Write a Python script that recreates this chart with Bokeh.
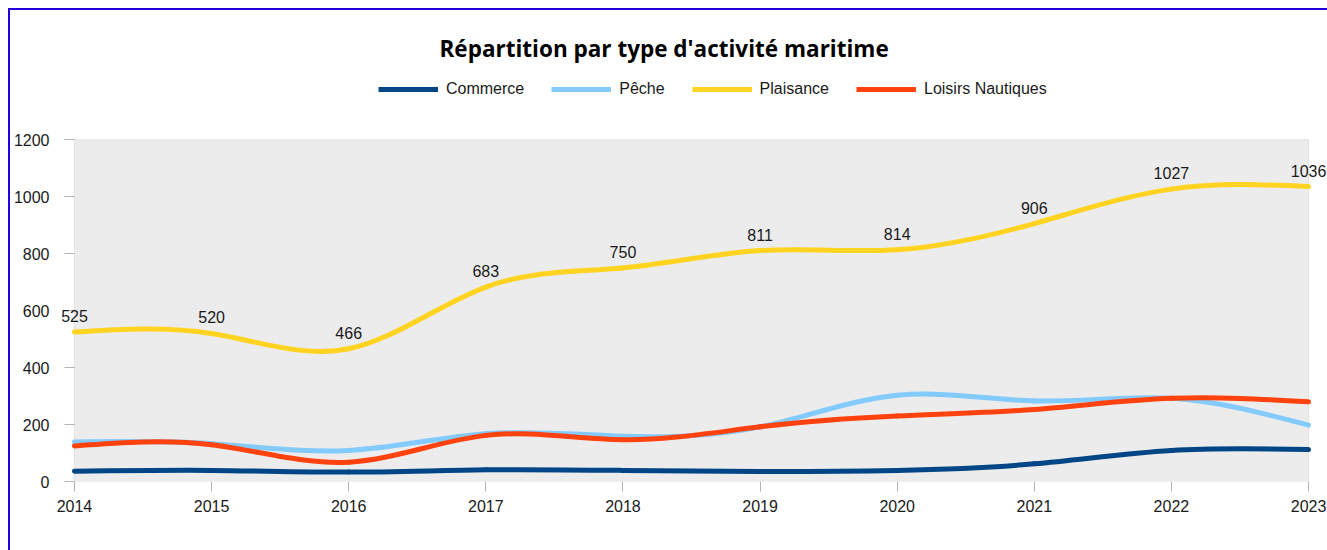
import numpy as np
from bokeh.plotting import figure
from bokeh.core.properties import value
from bokeh.models import (ColumnDataSource, FixedTicker, Legend, LegendItem,
                          LabelSet, BoxAnnotation)
from bokeh.embed import file_html
from bokeh.resources import INLINE

# ---- data -------------------------------------------------------------
years = [2014, 2015, 2016, 2017, 2018, 2019, 2020, 2021, 2022, 2023]
commerce = [36, 39, 33, 41, 39, 35, 39, 62, 109, 112]
peche = [139, 133, 109, 168, 159, 192, 303, 283, 292, 198]
plaisance = [525, 520, 466, 683, 750, 811, 814, 906, 1027, 1036]
loisirs = [125, 129, 68, 162, 147, 192, 230, 253, 292, 280]

series_names = ["Commerce", "Pêche", "Plaisance", "Loisirs Nautiques"]
series_values = [commerce, peche, plaisance, loisirs]
series_colors = ["#004586", "#83caff", "#ffd320", "#ff420e"]

y_ticks = [0, 200, 400, 600, 800, 1000, 1200]
Y_MAX = 1200

FONT = "Liberation Sans"
TEXT_COLOR = "#1a1a1a"
GREY = "#b3b3b3"

# ---- geometry ---------------------------------------------------------
# page positions, converted to canvas pixels (canvas starts at OFF, OFF)
OFF = 12
W, H = 1327 - OFF + 2, 550 - OFF + 2
PLOT_L, PLOT_R = 72 - OFF, 1308 - OFF      # x of first / last year
PLOT_T, PLOT_B = 141 - OFF, 481 - OFF      # y of Y_MAX / 0
FRAME_L, FRAME_T = 56 - OFF, 70 - OFF      # frame runs a little wider
TITLE_LEFT = 437 - OFF
LEGEND_LEFT, LEGEND_TOP = 376 - OFF, 79 - OFF

px_per_year = (PLOT_R - PLOT_L) / (years[-1] - years[0])
px_per_unit = (PLOT_B - PLOT_T) / Y_MAX
x_start = years[0] - (PLOT_L - FRAME_L) / px_per_year
x_end = years[-1] + (W - PLOT_R) / px_per_year
y_end = (PLOT_B - FRAME_T) / px_per_unit
AXIS_SHIFT = PLOT_L - FRAME_L


def spline_segments(xs, ys):
    """Natural cubic spline through the points, returned as Bezier segments."""
    x = np.asarray(xs, dtype=float)
    y = np.asarray(ys, dtype=float)
    n = len(x)
    h = np.diff(x)
    A = np.zeros((n, n))
    r = np.zeros(n)
    A[0, 0] = 1.0
    A[-1, -1] = 1.0
    for i in range(1, n - 1):
        A[i, i - 1] = h[i - 1]
        A[i, i] = 2 * (h[i - 1] + h[i])
        A[i, i + 1] = h[i]
        r[i] = 6 * ((y[i + 1] - y[i]) / h[i] - (y[i] - y[i - 1]) / h[i - 1])
    M = np.linalg.solve(A, r)
    slope = np.diff(y) / h
    d0 = slope - h * (2 * M[:-1] + M[1:]) / 6
    d1 = slope + h * (M[:-1] + 2 * M[1:]) / 6
    return dict(
        x0=x[:-1], y0=y[:-1], x1=x[1:], y1=y[1:],
        cx0=x[:-1] + h / 3, cy0=y[:-1] + h / 3 * d0,
        cx1=x[1:] - h / 3, cy1=y[1:] - h / 3 * d1,
    )


p = figure(
    width=W, height=H,
    x_range=(x_start, x_end), y_range=(0, y_end),
    output_backend="svg", toolbar_location=None,
    min_border_left=FRAME_L, min_border_right=W - PLOT_R - 19,
    min_border_top=FRAME_T, min_border_bottom=H - PLOT_B,
)
p.min_border_right = 0
x_end = years[-1] + (W - PLOT_R) / px_per_year
p.x_range.end = x_end

# page frame: blue rule along the top and left edges
p.styles = {
    "margin-left": "8px", "margin-top": "8px",
    "border-left": "2px solid #2200dd", "border-top": "2px solid #2200dd",
    "box-sizing": "content-box",
}
p.background_fill_color = "white"
p.border_fill_color = "white"
p.outline_line_color = None
p.xgrid.grid_line_color = None
p.ygrid.grid_line_color = None

# grey plotting area, outlined
p.add_layout(BoxAnnotation(left=years[0], right=years[-1], bottom=0, top=Y_MAX,
                           fill_color="#ececec", fill_alpha=1,
                           line_color=GREY, line_width=1, level="underlay"))

for ax in (p.xaxis[0], p.yaxis[0]):
    ax.axis_line_color = None
    ax.major_tick_line_color = GREY
    ax.major_tick_out = 10
    ax.major_tick_in = 0
    ax.minor_tick_line_color = None
    ax.major_label_text_font = FONT
    ax.major_label_text_font_size = "16px"
    ax.major_label_text_color = TEXT_COLOR
    ax.major_label_standoff = 8

# the y axis sits on the frame edge, a few px left of the first year:
# its ticks are shifted so they end on the grey area
yax = p.yaxis[0]
yax.major_tick_out = 10 - AXIS_SHIFT
yax.major_tick_in = AXIS_SHIFT
yax.major_label_standoff = 9

p.xaxis[0].ticker = FixedTicker(ticks=years)
yax.ticker = FixedTicker(ticks=y_ticks)

# title
p.title.text = "Répartition par type d'activité maritime"
p.title.text_font = "Open Sans"
p.title.text_font_style = "bold"
p.title.text_font_size = "22.5px"
p.title.text_color = "#000000"
p.title.align = "left"
p.title.offset = TITLE_LEFT - FRAME_L
p.title.standoff = 9

legend_items = []
for name, vals, color in zip(series_names, series_values, series_colors):
    src = ColumnDataSource(spline_segments(years, vals))
    p.bezier(x0="x0", y0="y0", x1="x1", y1="y1",
             cx0="cx0", cy0="cy0", cx1="cx1", cy1="cy1",
             source=src, line_color=color, line_width=5, line_cap="round")
    key = p.line(x=years[:1], y=vals[:1], line_color=color, line_width=5)
    legend_items.append(LegendItem(label=name, renderers=[key]))

legend = Legend(
    items=legend_items, orientation="horizontal",
    location=(LEGEND_LEFT - FRAME_L, PLOT_B - LEGEND_TOP - 20),
    glyph_width=60, glyph_height=20, label_height=20,
    label_standoff=8, spacing=27, padding=0, margin=0,
    border_line_color=None, background_fill_alpha=0,
    label_text_font=FONT, label_text_font_size="16px",
    label_text_color=TEXT_COLOR,
)
p.add_layout(legend, "center")

# value labels on the Plaisance curve
lab_src = ColumnDataSource(dict(x=years, y=plaisance,
                                t=[str(v) for v in plaisance]))
p.add_layout(LabelSet(x="x", y="y", text="t", source=lab_src,
                      text_align="center", text_baseline="alphabetic",
                      y_offset=10, text_font=value(FONT),
                      text_font_size=value("16px"),
                      text_color=TEXT_COLOR))

open("out.html", "w").write(file_html(p, INLINE))
